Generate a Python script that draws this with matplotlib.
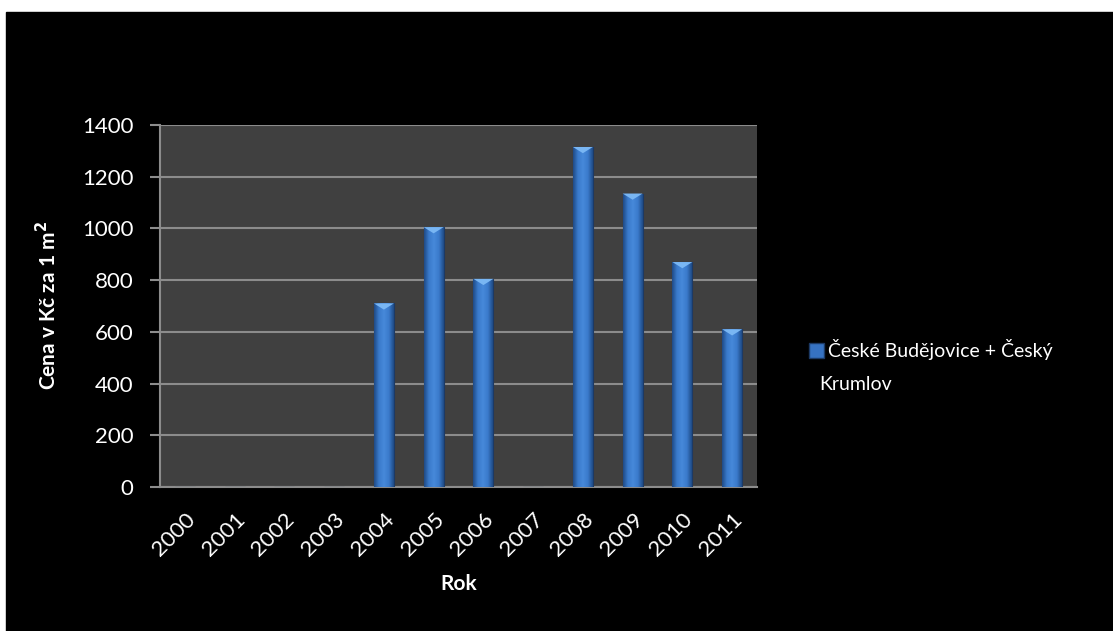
import matplotlib.pyplot as plt
import numpy as np
from matplotlib.patches import Rectangle, Polygon

plt.rcParams["font.family"] = ["Lato", "DejaVu Sans"]

years = ["2000", "2001", "2002", "2003", "2004", "2005",
         "2006", "2007", "2008", "2009", "2010", "2011"]
prices = [0, 0, 0, 0, 710, 1005, 805, 0, 1315, 1135, 870, 610]
series_label = "České Budějovice + Český"
series_label_2 = "Krumlov"
y_ticks = [0, 200, 400, 600, 800, 1000, 1200, 1400]

fig = plt.figure(figsize=(11.13, 6.31), dpi=100)
fig.patch.set_facecolor("white")
# black chart area (white strip on top and left like the source)
fig.patches.append(Rectangle((6 / 1113, 0), 1, 1 - 12 / 631,
                             transform=fig.transFigure, color="black",
                             zorder=-10))

ax = fig.add_axes([160 / 1113, 1 - 487 / 631, 597 / 1113, 362 / 631])
ax.set_facecolor("#404040")

x = np.arange(len(years))
width = 0.4
bars = ax.bar(x, prices, width=width, color="#3672c2",
              edgecolor="#1c3a66", linewidth=0.8, zorder=3)

# cylinder-like shading and light chevron on top of each bar
grad = np.concatenate([np.linspace(0.0, 1.0, 30), np.linspace(1.0, 0.0, 30)])
grad = grad.reshape(1, -1)
cmap = plt.matplotlib.colors.LinearSegmentedColormap.from_list(
    "cyl", ["#1f4b86", "#3a7acb", "#4689da"])
for rect, val in zip(bars, prices):
    if val <= 0:
        continue
    x0 = rect.get_x()
    w = rect.get_width()
    im = ax.imshow(grad, cmap=cmap, aspect="auto", zorder=4,
                   extent=(x0, x0 + w, 0, val), interpolation="bilinear")
    im.set_clip_path(rect)
    tip = 24
    tri = Polygon([(x0, val), (x0 + w, val), (x0 + w / 2, val - tip)],
                  closed=True, facecolor="#79b6f3", edgecolor="none",
                  zorder=5)
    ax.add_patch(tri)

ax.set_xlim(-0.5, len(years) - 0.5)
ax.set_ylim(0, 1400)
ax.set_yticks(y_ticks)
ax.set_xticks(x)
ax.set_xticklabels(years, rotation=45, ha="right", rotation_mode="anchor")

ax.yaxis.grid(True, color="#8c8c8c", linewidth=1.5, zorder=1)
ax.set_axisbelow(True)
for side in ["top", "right"]:
    ax.spines[side].set_visible(False)
for side in ["left", "bottom"]:
    ax.spines[side].set_color("#8c8c8c")
    ax.spines[side].set_linewidth(1.5)

ax.tick_params(axis="y", colors="#8c8c8c", length=7, width=1.5,
               labelcolor="white", labelsize=16, pad=12)
ax.tick_params(axis="x", length=0, labelcolor="white", labelsize=16, pad=16)

ax.set_ylabel("Cena v Kč za 1 m$^\\mathbf{2}$", color="white",
              fontsize=15, fontweight="bold", labelpad=16)
ax.set_xlabel("Rok", color="white", fontsize=15, fontweight="bold",
              labelpad=10)

# legend
handle = Rectangle((0, 0), 1, 1, facecolor="#3672c2", edgecolor="#1c3a66")
leg = fig.legend([handle], [series_label], loc="upper left",
                 bbox_to_anchor=(791 / 1113, 1 - 322 / 631), frameon=False,
                 fontsize=14, labelcolor="white", handlelength=0.8,
                 handleheight=0.8, handletextpad=0.2)
fig.text(819 / 1113, 1 - 384 / 631, series_label_2, color="white",
         fontsize=14, va="center", ha="left")

fig.savefig("out.png", dpi=100, facecolor=fig.get_facecolor())
